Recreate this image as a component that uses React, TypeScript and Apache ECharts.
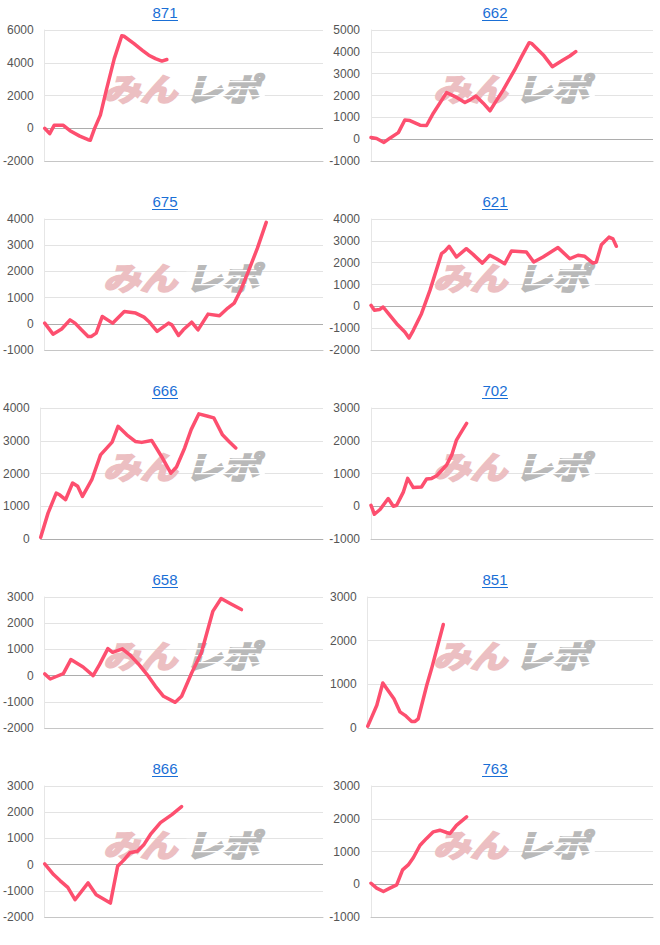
import React, { useEffect, useRef } from "react";
import * as echarts from "echarts";

// ---- data (x = position along the hidden horizontal axis, 0..100) ----
const TITLES = ["871", "662", "675", "621", "666", "702", "658", "851", "866", "763"];
const Y_MIN = [-2000, -1000, -1000, -2000, 0, -1000, -2000, 0, -2000, -1000];
const Y_MAX = [6000, 5000, 4000, 4000, 4000, 3000, 3000, 3000, 3000, 3000];
const Y_STEP = [2000, 1000, 1000, 1000, 1000, 1000, 1000, 1000, 1000, 1000];

const x871 = [0, 1.8, 3.4, 6.7, 9.1, 12.6, 15.6, 16.4, 17.9, 20, 22.1, 25, 27.7, 28.5, 32.1, 35.1, 37.4, 39.8, 42.1, 43.9];
const y871 = [0, -330, 180, 180, -150, -480, -700, -730, -20, 800, 2300, 4250, 5650, 5620, 5170, 4760, 4460, 4250, 4100, 4200];

const x662 = [0, 2, 4.6, 6.7, 9.7, 12, 13.8, 17.4, 19.7, 22.1, 26.8, 29.8, 33.3, 35.1, 37.2, 39.8, 42.2, 43.9, 46.9, 51, 53.4, 56.1, 56.9, 61.1, 64.3, 68.1, 70.5, 72.6];
const y662 = [75, 30, -150, 45, 300, 880, 850, 640, 625, 1190, 2130, 1950, 1680, 1800, 1980, 1650, 1300, 1650, 2260, 3180, 3780, 4420, 4390, 3860, 3320, 3630, 3810, 4010];

const x675 = [0, 3, 6.1, 9.1, 10.9, 13.2, 15.6, 16.8, 18.5, 20.7, 24.4, 28.6, 32.7, 35.7, 37.4, 40.4, 44.5, 45.7, 48.1, 49.8, 52.8, 55.1, 58.7, 62.8, 65.8, 68.1, 70.5, 73.4, 76.4, 79.6];
const y675 = [25, -395, -200, 150, 25, -230, -480, -480, -355, 280, 25, 470, 410, 255, 90, -290, 25, -40, -445, -230, 60, -230, 370, 305, 600, 790, 1300, 2060, 2880, 3870];

const x621 = [0, 1.2, 3, 4.3, 6.2, 9.1, 12, 13.5, 15, 17.9, 20.9, 25, 26.2, 27.7, 30.3, 33.8, 36.2, 39.5, 42.1, 44.5, 47.4, 49.8, 55.1, 57.7, 61, 66.3, 70.5, 73.4, 75.8, 78.7, 79.9, 81.7, 84.4, 85.8, 87];
const y621 = [45, -180, -150, -30, -335, -795, -1175, -1450, -1100, -335, 730, 2410, 2530, 2750, 2260, 2640, 2380, 1980, 2340, 2180, 1950, 2530, 2490, 2030, 2260, 2690, 2180, 2340, 2290, 1980, 2030, 2820, 3170, 3090, 2750];

const x666 = [0, 2.6, 5.5, 6.7, 8.8, 11.3, 13.1, 14.8, 18.1, 21.2, 25.3, 27.4, 30.5, 33.5, 35.8, 39.3, 42.8, 46.1, 48.1, 51, 53.3, 56, 59.2, 61.3, 64.4, 66.7, 69.1];
const y666 = [50, 790, 1400, 1350, 1200, 1710, 1610, 1300, 1810, 2570, 2960, 3440, 3180, 2980, 2950, 3010, 2520, 2010, 2200, 2780, 3340, 3820, 3750, 3700, 3180, 2980, 2780];

const x702 = [0, 1.2, 3.2, 6.1, 7.9, 9.1, 11.5, 13, 15, 17.9, 19.7, 21.5, 23.3, 26.8, 28.6, 30.3, 32.1, 33.9];
const y702 = [30, -245, -100, 235, 0, 30, 440, 850, 570, 590, 830, 850, 930, 1260, 1560, 2020, 2280, 2530];

const x658 = [0, 2, 4.4, 6.7, 9.4, 13.8, 17.4, 19.7, 22.7, 24.4, 27.9, 30.9, 33.9, 36.8, 39.8, 42.7, 46.9, 49.2, 52.8, 56.3, 60.4, 63.4, 66.3, 70.7];
const y658 = [65, -130, -25, 75, 610, 330, 0, 420, 1030, 890, 1020, 760, 420, 40, -410, -790, -1020, -790, 100, 870, 2450, 2940, 2770, 2520];

const x851 = [0, 1.4, 3.2, 5.3, 6.7, 9.2, 11.3, 13.1, 15.4, 16.6, 17.7, 20.7, 22.4, 26.5];
const y851 = [40, 250, 520, 1030, 900, 670, 370, 290, 150, 150, 210, 980, 1360, 2370];

const x866 = [0, 3.2, 5.5, 8.3, 10.9, 15.6, 18.5, 23.6, 26.2, 28.6, 30.6, 33.3, 35.7, 38, 41.6, 45.7, 49.2];
const y866 = [25, -380, -610, -870, -1340, -700, -1150, -1470, -65, 190, 450, 510, 770, 1150, 1600, 1910, 2210];

const x763 = [0, 2, 4.4, 6.7, 9.1, 11.2, 13.2, 15, 17.4, 19.7, 22.1, 24.4, 26.8, 28, 30.3, 33.9];
const y763 = [30, -120, -220, -120, -20, 440, 590, 810, 1190, 1400, 1600, 1650, 1580, 1550, 1800, 2060];

const XS = [x871, x662, x675, x621, x666, x702, x658, x851, x866, x763];
const YS = [y871, y662, y675, y621, y666, y702, y658, y851, y866, y763];

const LINE_COLOR = "#fd4f6f";
const TITLE_COLOR = "#1a6fd6";
const WM_PINK = "#ecbfc2";
const WM_GRAY = "#b9b9b9";

export default function App() {
  const ref = useRef<HTMLDivElement>(null);
  useEffect(() => {
    if (!ref.current) return;
    const chart = echarts.init(ref.current, undefined, { renderer: "svg" });

    const grids: any[] = [];
    const xAxes: any[] = [];
    const yAxes: any[] = [];
    const series: any[] = [];
    const graphics: any[] = [];

    TITLES.forEach((t, i) => {
      const col = i % 2;
      const row = Math.floor(i / 2);
      const cellX = col * 330;
      const plotTop = 30 + row * 189;
      const leftPad = Y_MIN[i] < 0 ? 41 : 37.7;
      grids.push({ left: cellX + leftPad, top: plotTop, width: 323 - leftPad, height: 131, containLabel: false });
      xAxes.push({
        type: "value", gridIndex: i, min: 0, max: 100,
        axisLabel: { show: false }, axisTick: { show: false }, splitLine: { show: false },
        axisLine: { show: true, onZero: false, lineStyle: { color: "#c6c6c6", width: 1 } },
      });
      yAxes.push({
        type: "value", gridIndex: i, min: Y_MIN[i], max: Y_MAX[i], interval: Y_STEP[i],
        axisLabel: { color: "#555", fontSize: 12, fontFamily: "Liberation Sans, Arial", margin: 11, formatter: (v: number) => String(v) },
        axisTick: { show: false },
        axisLine: { show: true, lineStyle: { color: "#e6e6e6" } },
        splitLine: { show: true, lineStyle: { color: "#e3e3e3", width: 1 } },
      });
      series.push({
        type: "line", xAxisIndex: i, yAxisIndex: i,
        data: XS[i].map((x, k) => [x, YS[i][k]]),
        showSymbol: false, symbol: "none",
        lineStyle: { color: LINE_COLOR, width: 3.5, cap: "round", join: "round" },
        itemStyle: { color: LINE_COLOR },
        z: 3,
        markLine: {
          silent: true, symbol: "none", z: 1,
          label: { show: false },
          lineStyle: { color: "#adadad", type: "solid", width: 1 },
          data: [{ yAxis: 0 }],
        },
      });
      // title
      const tx = cellX + 165;
      const ty = plotTop - 18;
      graphics.push({
        type: "text", x: tx, y: ty, z: 10,
        style: { text: t, fill: TITLE_COLOR, font: "15px 'Liberation Sans', Arial", textAlign: "center", textVerticalAlign: "middle" },
      });
      graphics.push({
        type: "rect", z: 10,
        shape: { x: tx - 13, y: ty + 8, width: 26, height: 1 },
        style: { fill: TITLE_COLOR },
      });
      // watermark
      const wy = plotTop + 57;
      graphics.push({
        type: "text", x: cellX + 103, y: wy, z: 2, scaleY: 0.85, originY: 0,
        style: { text: "みん", fill: WM_PINK, stroke: WM_PINK, lineWidth: 2.5, font: "italic bold 37px 'Noto Sans CJK JP'", textAlign: "left", textVerticalAlign: "middle" },
      });
      graphics.push({
        type: "text", x: cellX + 185, y: wy, z: 2, scaleY: 0.85, originY: 0,
        style: { text: "レポ", fill: WM_GRAY, stroke: WM_GRAY, lineWidth: 2.5, font: "italic bold 37px 'Noto Sans CJK JP'", textAlign: "left", textVerticalAlign: "middle" },
      });
      // speed-line stripes across the gray part
      [-6, 1, 8].forEach((dy) => {
        graphics.push({
          type: "rect", z: 2,
          shape: { x: cellX + 190 + dy * 0.6, y: wy + dy, width: 70, height: 1.2 },
          style: { fill: "#ffffff" },
        });
      });
    });

    chart.setOption({
      animation: false,
      backgroundColor: "#fff",
      grid: grids,
      xAxis: xAxes,
      yAxis: yAxes,
      series,
      graphic: graphics,
    });
    return () => chart.dispose();
  }, []);
  return <div ref={ref} style={{ position: "absolute", left: 0, top: 0, width: 660, height: 945 }} />;
}
